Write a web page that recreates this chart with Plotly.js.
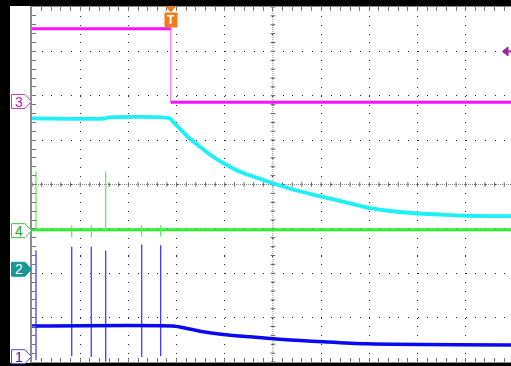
<!DOCTYPE html>
<html><head><meta charset="utf-8">
<script src="https://cdn.plot.ly/plotly-3.0.1.min.js"></script>
<style>html,body{margin:0;padding:0;background:#fff;overflow:hidden}#chart{width:511px;height:366px}</style>
</head><body><div id="chart"></div>
<script>
// Time in screen divisions (0 = centre), amplitude in vertical divisions (0 = centre)
const ch3Time  = [-5, -2.12, -2.12, 4.94];
const ch3Value = [3.51, 3.51, 1.855, 1.855];

const ch2Time  = [-5, -3.47, -3.45, -2.137, -2.068, -1.929, -1.722, -1.515, -1.307, -1.100, -0.892, -0.685, -0.477, -0.270, -0.062, 0.415, 0.768, 1.114, 1.39, 2.01, 2.635, 2.99, 3.46, 3.94, 4.94];
const ch2Value = [1.49, 1.49, 1.505, 1.49, 1.404, 1.255, 1.030, 0.850, 0.676, 0.525, 0.399, 0.286, 0.203, 0.128, 0.052, -0.113, -0.21, -0.30, -0.367, -0.53, -0.62, -0.654, -0.676, -0.70, -0.714];

const ch4Time  = [-5, 4.94];
const ch4Value = [-1.02, -1.02];
const ch4SpikeTime   = [-4.917, -4.176, -3.77, -3.471, -2.724, -2.33];
const ch4SpikeTop    = [0.304, -0.92, -0.92, 0.293, -0.92, -0.92];
const ch4SpikeBottom = [-1.05, -1.19, -1.19, -1.05, -1.17, -1.17];

const ch1Time  = [-5, -2.033, -1.861, -1.515, -1.031, -0.477, 0.006, 0.56, 1.037, 1.944, 4.94];
const ch1Value = [-3.19, -3.193, -3.229, -3.306, -3.38, -3.432, -3.477, -3.515, -3.545, -3.59, -3.617];
const ch1SpikeTime   = [-4.917, -4.176, -3.77, -3.471, -2.724, -2.33];
const ch1SpikeTop    = [-1.48, -1.40, -1.40, -1.49, -1.35, -1.37];
const ch1SpikeBottom = [-3.96, -3.87, -3.89, -3.99, -3.89, -3.87];

const channelLabels  = ['3', '4', '2', '1'];
const channelOffsets = [1.87, -1.04, -1.91, -3.88];
const triggerTime  = -2.12;
const triggerLevel = 3.0;

// ---- geometry helpers ----
const W = 511, H = 366, L = 32, T = 7, B = 4;
const PW = W - L, PH = H - T - B;
const XR = [-5, 4.94], YR = [-4, 4];
const pxPerX = PW / (XR[1] - XR[0]), pxPerY = PH / (YR[1] - YR[0]);
const xp = px => (px - L) / PW;               // pixel -> paper x
const yp = py => (H - B - py) / PH;           // pixel -> paper y
const vToPaper = v => (v - YR[0]) / (YR[1] - YR[0]);

function spikes(times, tops, bottoms) {
  const x = [], y = [];
  times.forEach((t, i) => { x.push(t, t, null); y.push(bottoms[i], tops[i], null); });
  return {x, y};
}
const g = spikes(ch4SpikeTime, ch4SpikeTop, ch4SpikeBottom);
const b = spikes(ch1SpikeTime, ch1SpikeTop, ch1SpikeBottom);

// magenta: thick horizontal segments only
const m3x = [], m3y = [];
for (let i = 0; i < ch3Time.length; i++) {
  if (i > 0 && ch3Time[i] === ch3Time[i-1]) { m3x.push(null); m3y.push(null); }
  m3x.push(ch3Time[i]); m3y.push(ch3Value[i]);
}

const traces = [
  {x: b.x, y: b.y, mode: 'lines', line: {color: '#3f3fff', width: 1.3}, hoverinfo: 'skip'},
  {x: ch1Time, y: ch1Value, mode: 'lines', line: {color: '#0a0af0', width: 3.5, shape: 'spline', smoothing: 0.7}},
  {x: ch4Time, y: ch4Value, mode: 'lines', line: {color: '#2cf02c', width: 3}},
  {x: g.x, y: g.y, mode: 'lines', line: {color: '#5ee85e', width: 1.2}, hoverinfo: 'skip'},
  {x: ch2Time, y: ch2Value, mode: 'lines', line: {color: '#1cf0f8', width: 3.8, shape: 'spline', smoothing: 0.6}},
  {x: ch3Time, y: ch3Value, mode: 'lines', line: {color: '#ff66ff', width: 1.2}},
  {x: m3x, y: m3y, mode: 'lines', line: {color: '#ff10ff', width: 3}, connectgaps: false}
];

const shapes = [];
// black frame parts
shapes.push({type: 'rect', xref: 'paper', yref: 'paper', x0: xp(0), x1: xp(10), y0: yp(H), y1: yp(0), fillcolor: '#000', line: {width: 0}, layer: 'above'});
shapes.push({type: 'rect', xref: 'paper', yref: 'paper', x0: xp(0), x1: xp(W), y0: yp(6), y1: yp(0), fillcolor: '#000', line: {width: 0}, layer: 'above'});
shapes.push({type: 'rect', xref: 'paper', yref: 'paper', x0: xp(0), x1: xp(W), y0: yp(H), y1: yp(363), fillcolor: '#000', line: {width: 0}, layer: 'above'});

// centre cross
shapes.push({type: 'line', xref: 'x', yref: 'y', x0: XR[0], x1: XR[1], y0: 0, y1: 0, line: {color: '#8a8a8a', width: 1, dash: '1px,1px'}, layer: 'between'});
shapes.push({type: 'line', xref: 'x', yref: 'y', x0: 0, x1: 0, y0: YR[0], y1: YR[1], line: {color: '#8a8a8a', width: 1, dash: '1px,1px'}, layer: 'between'});
const tx = 2.3 / pxPerY, ty = 2.3 / pxPerX;
for (let k = -25; k <= 24; k++) {
  const x = k * 0.2;
  shapes.push({type: 'line', xref: 'x', yref: 'y', x0: x, x1: x, y0: -tx, y1: tx, line: {color: '#666', width: 1}, layer: 'between'});
}
for (let k = -20; k <= 20; k++) {
  const y = k * 0.2;
  shapes.push({type: 'line', xref: 'x', yref: 'y', x0: -ty, x1: ty, y0: y, y1: y, line: {color: '#666', width: 1}, layer: 'between'});
}

// channel markers
const markerStyle = {
  '3': {line: '#c040c0', fill: '#ffffff', text: '#a82ca8'},
  '4': {line: '#3cc83c', fill: '#ffffff', text: '#22a822'},
  '2': {line: '#1a9696', fill: '#1a9696', text: '#ffffff'},
  '1': {line: '#4848d8', fill: '#ffffff', text: '#2a2aa0'}
};
const annotations = [];
channelLabels.forEach((lab, i) => {
  const c = vToPaper(channelOffsets[i]);
  const h = 7 / PH;
  const s = markerStyle[lab];
  const path = `M${xp(11.5)},${c - h} L${xp(25)},${c - h} L${xp(31.5)},${c} L${xp(25)},${c + h} L${xp(11.5)},${c + h} Z`;
  shapes.push({type: 'path', xref: 'paper', yref: 'paper', path, fillcolor: s.fill, line: {color: s.line, width: 1}, layer: 'above'});
  annotations.push({xref: 'paper', yref: 'paper', x: xp(19), y: c, text: lab, showarrow: false, xanchor: 'center', yanchor: 'middle',
    font: {family: 'Liberation Sans, Arial, sans-serif', size: 14, color: s.text}});
});

// trigger position marker
const dx4 = 4.5 / pxPerX;
shapes.push({type: 'path', xref: 'x', yref: 'paper',
  path: `M${triggerTime - dx4},${yp(6.5)} L${triggerTime + dx4},${yp(6.5)} L${triggerTime},${yp(12)} Z`,
  fillcolor: '#f07a1e', line: {color: '#f07a1e', width: 1}, layer: 'above'});
annotations.push({xref: 'x', yref: 'paper', x: triggerTime, y: yp(20.5), text: '<b>T</b>', showarrow: false,
  xanchor: 'center', yanchor: 'middle', bgcolor: '#f07a1e', borderpad: 0, width: 12, height: 14,
  font: {family: 'Liberation Sans, Arial, sans-serif', size: 12, color: '#ffffff'}});

// trigger level marker (right)
const tipX = XR[1] - 8.5 / pxPerX, backX = XR[1] - 3 / pxPerX, hh = 4.5 / pxPerY;
shapes.push({type: 'path', xref: 'x', yref: 'y',
  path: `M${tipX},${triggerLevel} L${backX},${triggerLevel + hh} L${backX},${triggerLevel - hh} Z`,
  fillcolor: '#a020a0', line: {color: '#a020a0', width: 1}, layer: 'above'});
shapes.push({type: 'line', xref: 'x', yref: 'y', x0: backX, x1: XR[1], y0: triggerLevel, y1: triggerLevel,
  line: {color: '#a020a0', width: 2}, layer: 'above'});

const axisCommon = {
  showgrid: true, gridcolor: '#2a2a2a', gridwidth: 1,
  dtick: 1, tick0: 0, ticks: 'inside', ticklen: 4, tickcolor: '#777', tickwidth: 1,
  minor: {dtick: 0.2, tick0: 0, ticks: 'inside', ticklen: 4, tickcolor: '#777', tickwidth: 1, showgrid: false},
  showline: true, linecolor: '#8c8c8c', linewidth: 2,
  showticklabels: false, zeroline: false, fixedrange: true
};

const layout = {
  width: W, height: H,
  margin: {l: L, r: 0, t: T, b: B, pad: 0},
  paper_bgcolor: '#ffffff', plot_bgcolor: '#ffffff',
  showlegend: false,
  xaxis: Object.assign({}, axisCommon, {range: XR, griddash: (1) + 'px,' + (PH / 40 - 1).toFixed(3) + 'px', mirror: 'ticks'}),
  yaxis: Object.assign({}, axisCommon, {range: YR, griddash: (1) + 'px,' + (PW / (XR[1] - XR[0]) / 5 - 1).toFixed(3) + 'px', mirror: false}),
  shapes, annotations
};

Plotly.newPlot('chart', traces, layout, {staticPlot: true, displayModeBar: false});
</script>
</body></html>
